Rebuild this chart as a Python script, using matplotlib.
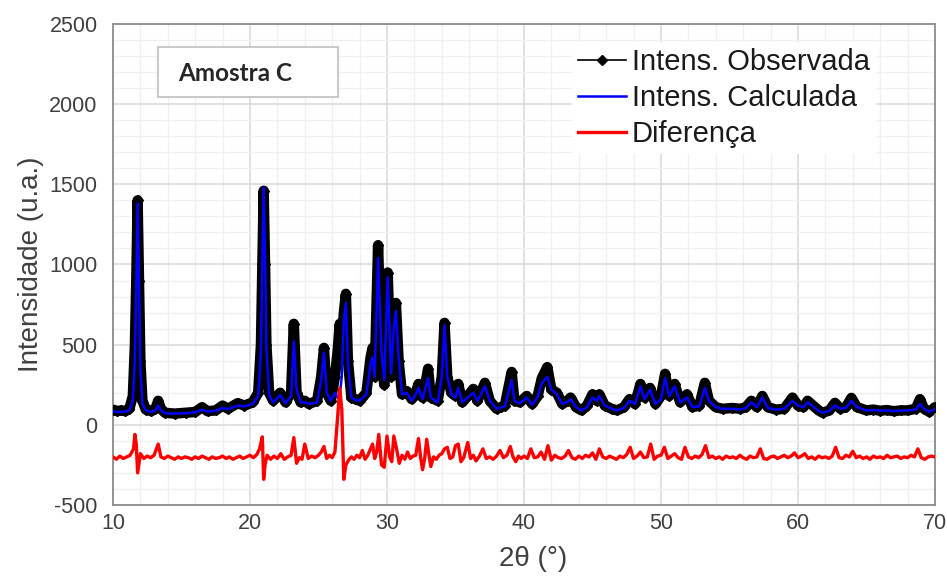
import matplotlib
matplotlib.use('Agg')
import matplotlib.pyplot as plt
from matplotlib.ticker import MultipleLocator
from matplotlib.patches import Rectangle

plt.rcParams['font.family'] = ['Liberation Sans', 'DejaVu Sans']
plt.rcParams['axes.unicode_minus'] = False

# values (2theta in degrees, intensities in u.a.)
two_theta = [10.0, 10.3, 10.6, 10.9, 11.2, 11.45, 11.6, 11.7, 11.8, 11.9, 12.0, 12.15, 12.4, 12.8, 13.1, 13.3, 13.5, 13.8,
             14.5, 15.3, 16.0, 16.5, 16.9, 17.5, 18.0, 18.4, 19.1, 19.6, 20.2,
             20.6, 20.8, 20.9, 21.0, 21.1, 21.2, 21.4, 21.7, 22.2, 22.6, 23.0, 23.2, 23.4, 23.7, 24.0, 24.3, 24.9,
             25.2, 25.4, 25.6, 25.9, 26.2, 26.4, 26.55, 26.7, 26.85, 27.0, 27.15, 27.4, 27.7, 28.0, 28.2, 28.5,
             28.8, 28.95, 29.1, 29.35, 29.6, 29.8, 30.05, 30.3, 30.5, 30.65, 30.85, 31.1, 31.45, 31.8,
             32.1, 32.3, 32.6, 32.9, 33.0, 33.2, 33.7, 34.0, 34.2, 34.4, 34.7, 35.0,
             35.2, 35.5, 35.9, 36.3, 36.6, 37.15, 37.5, 38.0, 38.3, 38.6, 39.1, 39.3, 39.7, 40.2, 40.6,
             41.0, 41.3, 41.7, 42.0, 42.4, 42.8, 43.2, 43.4, 43.8, 44.2, 44.6, 45.0, 45.3, 45.5, 45.9, 46.4, 46.8, 47.3,
             47.7, 48.1, 48.5, 48.8, 49.2, 49.6, 50.0, 50.3, 50.6, 51.0, 51.4, 51.9, 52.3, 52.8, 53.2, 53.5, 54.0, 54.5,
             55.2, 55.8, 56.2, 56.6, 57.0, 57.4, 57.8, 58.4, 59.0, 59.6, 60.0, 60.4, 60.7, 61.1, 61.5, 61.8,
             62.3, 62.7, 63.1, 63.5, 63.9, 64.3, 65.0, 65.5, 66.0, 66.5, 67.0, 67.5, 68.0, 68.6, 68.9, 69.2, 69.6, 70.0]

intens_obs = [95, 85, 90, 85, 100, 180, 500, 900, 1400, 900, 400, 150, 95, 85, 100, 150, 100, 75,
              70, 75, 80, 110, 85, 90, 120, 100, 135, 120, 140,
              200, 500, 1000, 1460, 1000, 500, 200, 150, 200, 140, 200, 630, 200, 140, 150, 130, 150,
              300, 480, 200, 150, 300, 460, 630, 500, 700, 817, 400, 170, 160, 150, 170, 200,
              420, 480, 300, 1120, 400, 250, 950, 300, 600, 760, 400, 190, 210, 160,
              200, 255, 170, 300, 350, 170, 150, 300, 636, 300, 200, 180,
              255, 140, 180, 224, 150, 262, 150, 100, 110, 120, 330, 150, 140, 180, 130,
              180, 290, 360, 220, 200, 130, 150, 170, 110, 90, 120, 190, 150, 190, 120, 100, 90, 110,
              160, 130, 255, 170, 230, 130, 180, 318, 180, 255, 140, 190, 110, 120, 262, 150, 110, 100,
              105, 100, 110, 150, 110, 180, 110, 95, 100, 170, 120, 110, 150, 120, 90, 75,
              90, 137, 100, 110, 168, 110, 90, 95, 88, 92, 85, 90, 90, 100, 160, 100, 80, 110]

intens_calc = [85, 80, 82, 82, 92, 150, 420, 850, 1380, 880, 350, 130, 90, 80, 90, 120, 90, 72,
               70, 72, 78, 95, 82, 88, 105, 98, 120, 115, 130,
               180, 450, 1000, 1480, 1050, 480, 180, 140, 185, 135, 180, 520, 220, 140, 140, 130, 140,
               280, 450, 200, 150, 200, 170, 180, 300, 650, 760, 380, 170, 155, 150, 165, 190,
               380, 420, 300, 1040, 450, 280, 920, 320, 600, 710, 420, 190, 200, 150,
               190, 230, 160, 260, 290, 170, 140, 300, 620, 300, 190, 170,
               230, 140, 170, 200, 150, 240, 150, 100, 108, 115, 280, 150, 135, 170, 125,
               175, 260, 300, 220, 190, 130, 145, 160, 110, 90, 110, 170, 150, 180, 120, 100, 90, 105,
               150, 130, 240, 160, 220, 130, 160, 290, 180, 240, 140, 170, 110, 115, 230, 150, 110, 100,
               100, 95, 105, 140, 110, 170, 105, 95, 100, 150, 120, 110, 140, 115, 88, 75,
               88, 120, 100, 105, 150, 110, 90, 92, 88, 90, 85, 88, 90, 95, 130, 100, 80, 100]

# difference curve, read on its own finer set of angles
diff_theta = [10.0, 10.25, 10.5, 10.75, 11.0, 11.25, 11.5, 11.6, 11.7, 11.8, 11.9, 12.0, 12.25, 12.5, 12.75, 13.0,
              13.3, 13.5, 13.75, 14.0, 14.25, 14.5, 14.75,
              15.0, 15.25, 15.5, 15.75, 16.0, 16.25, 16.5, 16.75, 17.0, 17.25, 17.5, 17.75, 18.0, 18.25, 18.5,
              18.75, 19.0, 19.25, 19.5, 19.75, 20.0, 20.25, 20.5,
              20.7, 20.9, 21.0, 21.1, 21.25, 21.5, 21.75, 22.0, 22.25, 22.5, 22.75, 23.0, 23.2, 23.4, 23.6, 23.8,
              24.0, 24.25, 24.5, 24.75,
              25.0, 25.2, 25.4, 25.6, 25.8, 26.0, 26.2, 26.4, 26.55, 26.7, 26.85, 27.0, 27.2, 27.4, 27.6, 27.8,
              28.0, 28.2, 28.4,
              28.6, 28.8, 28.95, 29.1, 29.25, 29.4, 29.6, 29.8, 30.0, 30.2, 30.35, 30.5, 30.7, 30.9, 31.1, 31.3,
              31.5, 31.7, 31.9,
              32.1, 32.3, 32.45, 32.6, 32.75, 32.9, 33.05, 33.2, 33.4, 33.6, 33.8, 34.0, 34.2, 34.4, 34.6, 34.8,
              35.0, 35.2, 35.4,
              35.6, 35.9, 36.1, 36.3, 36.5, 36.75, 37.0, 37.25, 37.5, 37.75, 38.0, 38.25, 38.5, 38.75, 39.0, 39.2,
              39.4, 39.6, 39.8,
              40.0, 40.25, 40.5, 40.75, 41.0, 41.25, 41.5, 41.75, 42.0, 42.25, 42.5, 42.75, 43.0, 43.25, 43.5,
              43.75, 44.0, 44.25, 44.5, 44.75,
              45.0, 45.25, 45.5, 45.75, 46.0, 46.25, 46.5, 46.75, 47.0, 47.25, 47.5, 47.75, 48.0, 48.25, 48.5,
              48.75, 49.0, 49.25, 49.5, 49.75,
              50.0, 50.25, 50.5, 50.75, 51.0, 51.25, 51.5, 51.75, 52.0, 52.25, 52.5, 52.75, 53.0, 53.25, 53.5,
              53.75, 54.0, 54.25, 54.5, 54.75,
              55.0, 55.25, 55.5, 55.75, 56.0, 56.25, 56.5, 56.75, 57.0, 57.25, 57.5, 57.75, 58.0, 58.25, 58.5,
              58.75, 59.0, 59.25, 59.5, 59.75,
              60.0, 60.25, 60.5, 60.75, 61.0, 61.25, 61.5, 61.75, 62.0, 62.25, 62.5, 62.75, 63.0, 63.25, 63.5,
              63.75, 64.0, 64.25, 64.5, 64.75,
              65.0, 65.25, 65.5, 65.75, 66.0, 66.25, 66.5, 66.75, 67.0, 67.25, 67.5, 67.75, 68.0, 68.25, 68.5,
              68.75, 69.0, 69.25, 69.5, 69.75, 70.0]

diferenca = [-200, -215, -195, -210, -200, -190, -150, -60, -120, -300, -240, -180, -210, -195, -205, -190,
             -120, -200, -210, -195, -205, -215, -200,
             -210, -200, -205, -215, -200, -210, -195, -205, -215, -200, -210, -205, -195, -210, -200,
             -215, -205, -195, -210, -200, -190, -205, -185,
             -150, -75, -340, -250, -190, -215, -195, -210, -180, -215, -200, -190, -80, -240, -205, -215,
             -120, -210, -195, -205,
             -190, -170, -135, -210, -190, -205, -170, 50, 230, 100, -340, -250, -220, -200, -215, -190,
             -205, -160, -215,
             -190, -150, -120, -210, -170, -60, -250, -265, -70, -200, -230, -70, -150, -240, -190, -215,
             -170, -210, -195,
             -190, -85, -200, -280, -210, -90, -180, -260, -200, -215, -190, -180, -150, -140, -210, -200,
             -130, -120, -230,
             -205, -110, -210, -190, -225, -195, -150, -210, -200, -215, -195, -160, -205, -190, -135, -200,
             -230, -195, -210,
             -195, -210, -150, -205, -200, -170, -215, -130, -220, -190, -205, -210, -195, -160, -205,
             -215, -195, -210, -190, -200,
             -175, -215, -150, -200, -210, -195, -205, -215, -195, -205, -185, -140, -210, -195, -170,
             -205, -200, -120, -215, -195,
             -190, -140, -210, -195, -180, -205, -215, -140, -200, -210, -195, -205, -185, -130, -205,
             -195, -210, -200, -215, -195,
             -205, -200, -210, -190, -205, -215, -195, -205, -200, -150, -210, -215, -200, -195, -210,
             -200, -190, -205, -195, -175,
             -205, -195, -180, -210, -200, -215, -195, -205, -200, -210, -195, -140, -205, -210, -190,
             -200, -165, -205, -195, -210,
             -200, -215, -195, -205, -200, -210, -190, -205, -200, -195, -210, -200, -205, -190, -200,
             -150, -205, -215, -200, -195, -200]

assert len(two_theta) == len(intens_obs) == len(intens_calc)
assert len(diff_theta) == len(diferenca)

fig = plt.figure(figsize=(9.47, 5.76), dpi=100)
ax = fig.add_axes([0.1193, 0.1233, 0.868, 0.835])

# thick black band imitating the dense observed markers
ax.plot(two_theta, intens_obs, color='black', lw=7.5, solid_joinstyle='round',
        solid_capstyle='round', zorder=2)
ax.plot(two_theta, intens_obs, color='black', lw=1.2, marker='D', ms=5, zorder=3,
        label='Intens. Observada')
ax.plot(two_theta, intens_calc, color='#0000ff', lw=1.8, zorder=4, label='Intens. Calculada')
ax.plot(diff_theta, diferenca, color='#ff0000', lw=2.4, zorder=4, label='Diferença')

ax.set_xlim(10, 70)
ax.set_ylim(-500, 2500)
ax.xaxis.set_major_locator(MultipleLocator(10))
ax.xaxis.set_minor_locator(MultipleLocator(2))
ax.yaxis.set_major_locator(MultipleLocator(500))
ax.yaxis.set_minor_locator(MultipleLocator(100))
ax.grid(which='major', color='#d9d9d9', lw=1.1)
ax.grid(which='minor', color='#f0f0f0', lw=1.0)
ax.set_axisbelow(True)

ax.tick_params(which='both', length=0)
ax.tick_params(axis='y', pad=11, labelsize=15.5, labelcolor='#404040')
ax.tick_params(axis='x', pad=6, labelsize=15.5, labelcolor='#404040')
for sp in ax.spines.values():
    sp.set_color('#8c8c8c')
    sp.set_linewidth(1.3)

ax.set_ylabel('Intensidade (u.a.)', fontsize=20, color='#404040')
ax.set_xlabel('2θ (°)', fontsize=20, color='#404040')
ax.yaxis.set_label_coords(-0.084, 0.5)
ax.xaxis.set_label_coords(0.511, -0.085)

leg = ax.legend(loc='upper right', bbox_to_anchor=(0.928, 0.962), fontsize=21, frameon=True,
                fancybox=False, edgecolor='none', facecolor='white', framealpha=1,
                handlelength=1.65, handletextpad=0.2, labelspacing=0.28, borderpad=0.2,
                borderaxespad=0, numpoints=1)
for t in leg.get_texts():
    t.set_color('#1a1a1a')

ax.add_patch(Rectangle((0.0547, 0.848), 0.219, 0.104, transform=ax.transAxes,
                       facecolor='white', edgecolor='#bfbfbf', lw=1.2, zorder=5))
ax.text(0.079, 0.898, 'Amostra C', transform=ax.transAxes, fontsize=17.5, fontweight='bold',
        family=['Lato', 'DejaVu Sans'], va='center', ha='left', zorder=6, color='#262626')

fig.savefig('out.png', dpi=100)
